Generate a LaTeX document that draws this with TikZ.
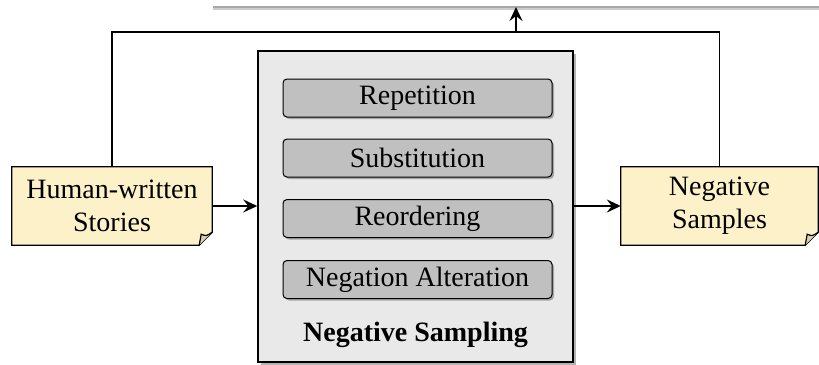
\documentclass[tikz,border=0pt]{standalone}
\usepackage{fontspec}
\setmainfont{LiberationSerif}[Extension=.ttf, UprightFont=*-Regular, BoldFont=*-Bold, ItalicFont=*-Italic, BoldItalicFont=*-BoldItalic]
\usetikzlibrary{shadows,arrows.meta,calc}
\definecolor{notefill}{HTML}{FDF1C9}
\definecolor{notefold}{HTML}{D9CFAE}
\definecolor{outerfill}{HTML}{E9E9E9}
\definecolor{innerfill}{HTML}{C0C0C0}
\definecolor{topline}{HTML}{A8A8A8}
\pgfdeclarelayer{bg}
\pgfsetlayers{bg,main}
\begin{document}
\begin{tikzpicture}[x=1pt,y=-1pt,
  txt/.style={font=\fontsize{28}{33}\selectfont, align=center, text=black},
  notetext/.style={txt, minimum width=200pt, minimum height=78pt, inner sep=0pt},
  outerbox/.style={draw=black, line width=1.5pt, fill=outerfill, minimum width=315pt, minimum height=311pt, inner sep=0pt,
     drop shadow={shadow xshift=2.5pt, shadow yshift=-2.5pt, fill=black!60, opacity=.5}},
  methodbox/.style={txt, draw=black, line width=1pt, fill=innerfill, rounded corners=4pt, minimum width=269pt, minimum height=38pt, inner sep=0pt,
     drop shadow={shadow xshift=2pt, shadow yshift=-2pt, fill=black!60, opacity=.5}},
  noteline/.style={draw=black, line width=1.2pt, fill=notefill},
  noteshadow/.style={fill=black!60, opacity=.5},
  conn/.style={draw=black, line width=1.8pt},
  arr/.style={conn, -{Stealth[length=14pt,width=13pt,inset=5pt]}}
]
\useasboundingbox (0,0) rectangle (819,364);

% outer gray line (edge of the next stage)
\coordinate (gl) at (213,7);
\coordinate (gr) at (819,7);
\draw[black!20, line width=2pt] ([yshift=-2pt]gl) -- ([yshift=-2pt]gr);
\draw[topline, line width=2.2pt] (gl) -- (gr);

% Negative Sampling box
\node[outerbox] (ns) at (415.5,206.5) {};
\node[methodbox] (rep) at (417.5,98) {Repetition};
\node[methodbox] (sub) at (417.5,158) {Substitution};
\node[methodbox] (reo) at (417.5,218.5) {Reordering};
\node[methodbox] (neg) at (417.5,279.5) {Negation Alteration};
\node[txt, font=\fontsize{28}{33}\selectfont\bfseries] (nslabel) at (415.5,335) {Negative Sampling};

% note nodes
\node[notetext] (hw) at (112,206) {Human-written\\Stories};
\node[notetext, minimum width=197pt] (ns2) at (719.5,206) {Negative\\Samples};

\begin{pgfonlayer}{bg}
  \begin{scope}[shift={(2.5,2.5)}]
    \fill[noteshadow] (hw.north west) -- (hw.north east) -- ([yshift=13pt]hw.south east) -- ([xshift=-13pt]hw.south east) -- (hw.south west) -- cycle;
    \fill[noteshadow] (ns2.north west) -- (ns2.north east) -- ([yshift=13pt]ns2.south east) -- ([xshift=-13pt]ns2.south east) -- (ns2.south west) -- cycle;
  \end{scope}
  \draw[noteline] (hw.north west) -- (hw.north east) -- ([yshift=13pt]hw.south east) -- ([xshift=-13pt]hw.south east) -- (hw.south west) -- cycle;
  \draw[noteline, fill=notefold] ([yshift=13pt]hw.south east) .. controls ([xshift=-6pt,yshift=9pt]hw.south east) .. ([xshift=-11pt,yshift=11pt]hw.south east) -- ([xshift=-13pt]hw.south east);
  \draw[noteline] (ns2.north west) -- (ns2.north east) -- ([yshift=13pt]ns2.south east) -- ([xshift=-13pt]ns2.south east) -- (ns2.south west) -- cycle;
  \draw[noteline, fill=notefold] ([yshift=13pt]ns2.south east) .. controls ([xshift=-6pt,yshift=9pt]ns2.south east) .. ([xshift=-11pt,yshift=11pt]ns2.south east) -- ([xshift=-13pt]ns2.south east);
\end{pgfonlayer}

% connectors
\coordinate (bus) at (516,32);
\coordinate (out) at (516,7);
\draw[conn] (hw.north) |- (bus) -| (ns2.north);
\draw[arr] (bus) -- (out);
\draw[arr] (hw.east) -- (hw.east -| ns.west);
\draw[arr] (ns.east |- ns2.west) -- (ns2.west);
\end{tikzpicture}
\end{document}
